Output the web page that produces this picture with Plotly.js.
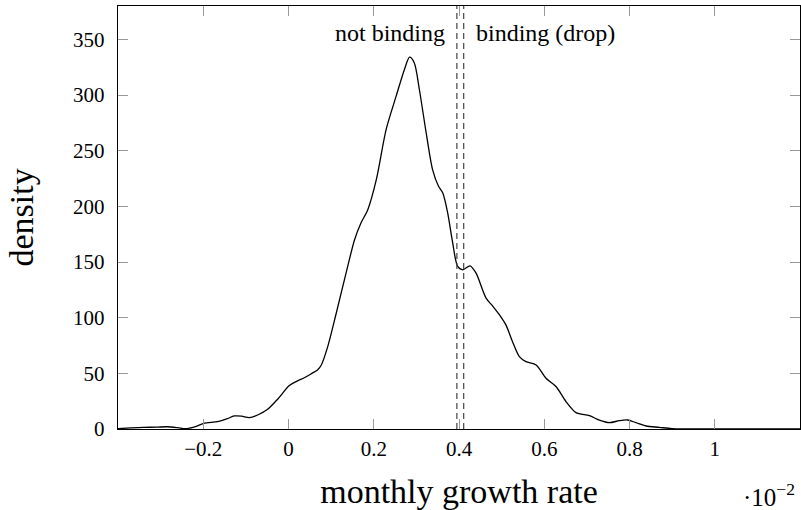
<!DOCTYPE html>
<html>
<head>
<meta charset="utf-8">
<script src="https://cdn.plot.ly/plotly-3.0.1.min.js"></script>
<style>html,body{margin:0;padding:0;background:#fff;}#chart{width:801px;height:510px;}</style>
</head>
<body>
<div id="chart"></div>
<script>
// growth rate (in units of 1e-2) and estimated density
var growthRate = [-0.4, -0.37, -0.34, -0.31, -0.284, -0.26, -0.241, -0.22, -0.199, -0.166, -0.145, -0.127, -0.11, -0.092, -0.07, -0.049, -0.025, 0.002, 0.02, 0.037, 0.055, 0.068, 0.077, 0.092, 0.112, 0.135, 0.155, 0.17, 0.186, 0.206, 0.229, 0.2525, 0.272, 0.284, 0.295, 0.307, 0.323, 0.338, 0.352, 0.362, 0.3735, 0.384, 0.397, 0.409, 0.426, 0.44, 0.4635, 0.48, 0.495, 0.51, 0.526, 0.5416, 0.557, 0.581, 0.604, 0.628, 0.651, 0.6745, 0.706, 0.729, 0.753, 0.776, 0.7956, 0.815, 0.839, 0.87, 0.9, 1.0, 1.2];
var density = [0.3, 1, 1.5, 1.6, 2, 1.2, 0.3, 2, 5, 6.6, 9, 11.7, 11.5, 10.2, 13, 17.7, 27, 39, 43, 46, 50, 53, 57.5, 74, 104, 140, 170, 185, 197, 224, 269, 299, 323, 334, 329, 305, 266, 233, 218, 212, 194, 170, 146, 143, 146.6, 140, 117.5, 110, 102.5, 93.5, 78, 65, 60.5, 57.5, 45.6, 38, 24.6, 14.7, 12, 8, 5.7, 7.5, 8.1, 5.7, 2.7, 1.5, 0.3, 0, 0];
var thresholds = [0.395, 0.411];
var xTicks = [-0.2, 0, 0.2, 0.4, 0.6, 0.8, 1];
var xTickLabels = ['\u22120.2', '0', '0.2', '0.4', '0.6', '0.8', '1'];
var yTicks = [0, 50, 100, 150, 200, 250, 300, 350];
var regionLabels = ['not binding', 'binding (drop)'];
var scaleLabel = '\u00b710<sup>\u22122</sup>';
var yTitle = 'density';
var xTitle = 'monthly growth rate';

var serif = 'Liberation Serif, Times New Roman, serif';

var trace = {
  x: growthRate, y: density, type: 'scatter', mode: 'lines',
  line: {color: '#000', width: 1.3, shape: 'spline', smoothing: 0.8},
  hoverinfo: 'skip', showlegend: false
};

var shapes = thresholds.map(function (t) {
  return {type: 'line', xref: 'x', yref: 'paper', x0: t, x1: t, y0: 0, y1: 1,
    line: {color: '#444', width: 1.2, dash: '6px,4px'}};
});

var layout = {
  width: 801, height: 510,
  margin: {l: 118, r: 1, t: 6, b: 81},
  paper_bgcolor: '#fff', plot_bgcolor: '#fff',
  font: {family: serif, color: '#000', size: 21},
  xaxis: {
    range: [-0.4, 1.2], tickvals: xTicks, ticktext: xTickLabels,
    ticks: 'inside', ticklen: 10, tickcolor: '#999', tickwidth: 1,
    showline: true, linecolor: '#000', linewidth: 1.3, mirror: 'ticks',
    showgrid: false, zeroline: false, tickfont: {size: 21},
    title: {text: xTitle, font: {size: 34}, standoff: 21}
  },
  yaxis: {
    range: [0, 380], tickvals: yTicks,
    ticks: 'inside', ticklen: 10, tickcolor: '#999', tickwidth: 1,
    showline: true, linecolor: '#000', linewidth: 1.3, mirror: 'ticks',
    showgrid: false, zeroline: false, tickfont: {size: 21},
    ticklabelstandoff: 8
  },
  shapes: shapes,
  annotations: [
    {x: 0, y: 0.5, xref: 'paper', yref: 'paper', xshift: -97, xanchor: 'center', yanchor: 'middle',
      textangle: -90, text: yTitle, showarrow: false, font: {size: 34}},
    {x: thresholds[0], y: 356, xref: 'x', yref: 'y', text: regionLabels[0], showarrow: false,
      xanchor: 'right', xshift: -10, font: {size: 24}},
    {x: thresholds[1], y: 356, xref: 'x', yref: 'y', text: regionLabels[1], showarrow: false,
      xanchor: 'left', xshift: 10, font: {size: 24}},
    {x: 1, y: 0, xref: 'paper', yref: 'paper', yshift: -66, xshift: -3, xanchor: 'right', yanchor: 'middle',
      text: scaleLabel, showarrow: false, font: {size: 25}}
  ]
};

Plotly.newPlot('chart', [trace], layout, {staticPlot: true, displayModeBar: false});
</script>
</body>
</html>
